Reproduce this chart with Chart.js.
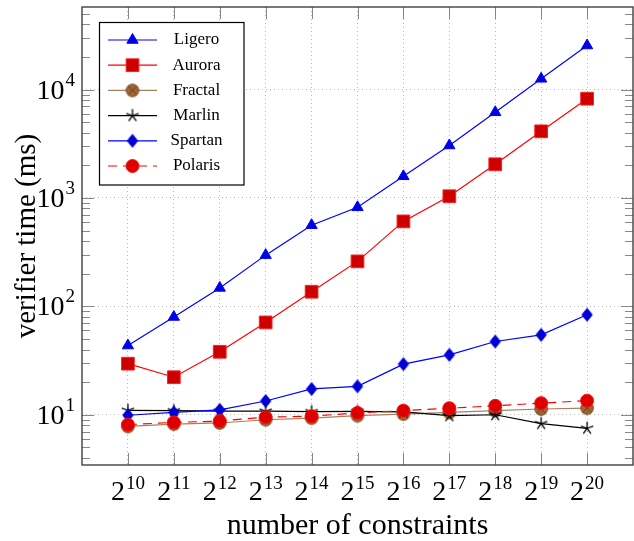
<!DOCTYPE html>
<html><head><meta charset="utf-8">
<script src="https://cdn.jsdelivr.net/npm/chart.js@4.4.1/dist/chart.umd.min.js"></script>
<style>html,body{margin:0;padding:0;background:#fff;}#wrap{width:634px;height:541px;}</style>
</head><body><div id="wrap"><canvas id="c" width="634" height="541"></canvas></div>
<script>
// ---------- data ----------
const exponents = [10, 11, 12, 13, 14, 15, 16, 17, 18, 19, 20];
const xTickBase = '2';
const xTickExps = ['10','11','12','13','14','15','16','17','18','19','20'];
const yTickValues = [10, 100, 1000, 10000];
const yTickBase = '10';
const yTickExps = ['1','2','3','4'];
const seriesNames = ['Ligero','Aurora','Fractal','Marlin','Spartan','Polaris'];
const ligero  = [43.5, 79.8, 148, 297, 561, 820, 1585, 3050, 6170, 12580, 25500];
const aurora  = [29.6, 22.2, 38.1, 71.1, 136.5, 260, 608, 1038, 2046, 4120, 8240];
const fractal = [7.8, 8.2, 8.4, 9.0, 9.3, 9.8, 10.15, 10.5, 10.9, 11.3, 11.5];
const marlin  = [11.0, 10.9, 10.8, 10.8, 10.7, 10.75, 10.65, 9.8, 10.0, 8.3, 7.5];
const spartan = [9.9, 10.5, 11.1, 13.4, 17.3, 18.3, 29.3, 35.7, 47.4, 54.6, 83.6];
const polaris = [8.1, 8.5, 8.75, 9.5, 9.7, 10.4, 10.9, 11.5, 12.1, 12.8, 13.5];

// ---------- marker images ----------
function makeAsterisk() {
  const c = document.createElement('canvas'); c.width = 16; c.height = 16;
  const g = c.getContext('2d'); g.strokeStyle = '#000'; g.lineWidth = 1.3;
  g.beginPath();
  for (let k = 0; k < 5; k++) {
    const a = -Math.PI / 2 + k * 2 * Math.PI / 5;
    g.moveTo(8, 8); g.lineTo(8 + 6.5 * Math.cos(a), 8 + 6.5 * Math.sin(a));
  }
  g.stroke(); return c;
}
function makeOtimes() {
  const c = document.createElement('canvas'); c.width = 16; c.height = 16;
  const g = c.getContext('2d');
  g.beginPath(); g.arc(8, 8, 6.3, 0, Math.PI * 2);
  g.fillStyle = '#9c6633'; g.fill();
  g.strokeStyle = '#7a4f26'; g.lineWidth = 1; g.stroke();
  const d = 4.4;
  g.beginPath(); g.moveTo(8 - d, 8 - d); g.lineTo(8 + d, 8 + d);
  g.moveTo(8 - d, 8 + d); g.lineTo(8 + d, 8 - d);
  g.strokeStyle = '#6b4422'; g.stroke();
  return c;
}
function makeDiamond() {
  const c = document.createElement('canvas'); c.width = 14; c.height = 16;
  const g = c.getContext('2d');
  g.beginPath(); g.moveTo(7, 1.5); g.lineTo(12.2, 8); g.lineTo(7, 14.5); g.lineTo(1.8, 8); g.closePath();
  g.fillStyle = '#0000d0'; g.fill(); g.strokeStyle = '#0000ff'; g.lineWidth = 1; g.stroke();
  return c;
}
const starImg = makeAsterisk(), otimesImg = makeOtimes(), diamondImg = makeDiamond();

const SERIF = "'Liberation Serif', 'DejaVu Serif', serif";

function ds(label, data, o) {
  return Object.assign({
    label, data: data.map((v, i) => ({x: exponents[i], y: v})),
    borderWidth: 1.2, pointBorderWidth: 1, tension: 0, fill: false, clip: false
  }, o);
}
const datasets = [
  ds(seriesNames[0], ligero, {borderColor:'#0000ff', pointStyle:'triangle', pointRadius:6.5, pointBackgroundColor:'#0000e0', pointBorderColor:'#0000ff', order:6}),
  ds(seriesNames[1], aurora, {borderColor:'#ff0000', pointStyle:'rect', pointRadius:9, pointBackgroundColor:'#cc0000', pointBorderColor:'#ff2020', order:5}),
  ds(seriesNames[2], fractal, {borderColor:'#a8825a', pointStyle:otimesImg, order:4}),
  ds(seriesNames[3], marlin, {borderColor:'#000000', pointStyle:starImg, order:3}),
  ds(seriesNames[4], spartan, {borderColor:'#0000ff', pointStyle:diamondImg, order:2}),
  ds(seriesNames[5], polaris, {borderColor:'#ff0000', borderDash:[9,6], pointStyle:'circle', pointRadius:6.5, pointBackgroundColor:'#dd0000', pointBorderColor:'#ff1010', order:1})
];

// ---------- frame, inside ticks, tick labels with exponents ----------
const framePlugin = {
  id: 'frame',
  afterDraw(chart) {
    const {ctx, chartArea: a, scales: {x, y}} = chart;
    ctx.save();
    ctx.strokeStyle = '#7a7a7a'; ctx.lineWidth = 0.9;
    ctx.beginPath();
    exponents.forEach(e => {
      const px = Math.round(x.getPixelForValue(e)) + 0.5;
      ctx.moveTo(px, a.bottom); ctx.lineTo(px, a.bottom - 12);
      ctx.moveTo(px, a.top); ctx.lineTo(px, a.top + 12);
    });
    for (let d = 0; d <= 4; d++) {
      for (let k = 1; k <= 9; k++) {
        const v = k * Math.pow(10, d);
        if (v < y.min || v > y.max) continue;
        const len = k === 1 ? 12 : 8;
        const py = Math.round(y.getPixelForValue(v)) + 0.5;
        ctx.moveTo(a.left, py); ctx.lineTo(a.left + len, py);
        ctx.moveTo(a.right, py); ctx.lineTo(a.right - len, py);
      }
    }
    ctx.stroke();
    ctx.strokeStyle = '#404040'; ctx.lineWidth = 1.4;
    ctx.strokeRect(a.left, a.top, a.right - a.left, a.bottom - a.top);

    // tick labels
    ctx.fillStyle = '#000';
    ctx.textBaseline = 'alphabetic';
    const baseFont = '28px ' + SERIF, expFont = '19px ' + SERIF;
    exponents.forEach((e, i) => {
      const px = x.getPixelForValue(e);
      ctx.font = baseFont; const wb = ctx.measureText(xTickBase).width;
      ctx.font = expFont; const we = ctx.measureText(xTickExps[i]).width;
      const x0 = px - (wb + we + 1) / 2;
      ctx.textAlign = 'left';
      ctx.font = baseFont; ctx.fillText(xTickBase, x0, a.bottom + 35);
      ctx.font = expFont; ctx.fillText(xTickExps[i], x0 + wb + 1, a.bottom + 24);
    });
    yTickValues.forEach((v, i) => {
      const py = y.getPixelForValue(v);
      const xr = a.left - 7;
      ctx.textAlign = 'right';
      ctx.font = expFont; const we = ctx.measureText(yTickExps[i]).width;
      ctx.fillText(yTickExps[i], xr, py - 4);
      ctx.font = baseFont; ctx.fillText(yTickBase, xr - we - 1, py + 9);
    });
    ctx.restore();
  }
};

// ---------- legend ----------
const legendPlugin = {
  id: 'texLegend',
  afterDraw(chart) {
    const ctx = chart.ctx;
    const box = {l: 99.5, t: 22.5, r: 244, b: 185};
    ctx.save();
    ctx.fillStyle = '#fff';
    ctx.fillRect(box.l, box.t, box.r - box.l, box.b - box.t);
    ctx.strokeStyle = '#000'; ctx.lineWidth = 1.2;
    ctx.strokeRect(box.l, box.t, box.r - box.l, box.b - box.t);
    chart.data.datasets.forEach((d, i) => {
      const yy = 40 + i * 25.2;
      ctx.save();
      ctx.strokeStyle = d.borderColor; ctx.lineWidth = d.borderWidth;
      ctx.setLineDash(d.borderDash || []);
      ctx.beginPath(); ctx.moveTo(108, yy); ctx.lineTo(157, yy); ctx.stroke();
      ctx.setLineDash([]);
      ctx.fillStyle = d.pointBackgroundColor || d.borderColor;
      ctx.strokeStyle = d.pointBorderColor || d.borderColor;
      ctx.lineWidth = d.pointBorderWidth;
      Chart.helpers.drawPoint(ctx, {pointStyle: d.pointStyle, radius: d.pointRadius || 6, borderWidth: d.pointBorderWidth, rotation: 0}, 132.5, yy);
      ctx.restore();
      ctx.fillStyle = '#000';
      ctx.font = '17px ' + SERIF;
      ctx.textAlign = 'center'; ctx.textBaseline = 'middle';
      ctx.fillText(d.label, 196.5, yy);
    });
    ctx.restore();
  }
};

new Chart(document.getElementById('c'), {
  type: 'line',
  data: {datasets},
  options: {
    responsive: false, animation: false, devicePixelRatio: 1,
    layout: {autoPadding: false, padding: {top: 7, right: 1, left: 0, bottom: 0}},
    plugins: {legend: {display: false}, tooltip: {enabled: false}},
    scales: {
      x: {
        type: 'linear', min: 9, max: 21, bounds: 'data',
        afterBuildTicks: s => { s.ticks = exponents.map(v => ({value: v})); },
        afterFit: s => { s.height = 76; s.paddingLeft = 0; s.paddingRight = 0; },
        ticks: {display: false},
        grid: {color: '#b8b8b8', lineWidth: 1, drawTicks: false},
        border: {display: false, dash: [1, 3]},
        title: {display: true, text: 'number of constraints', color: '#000',
                font: {family: SERIF, size: 30, lineHeight: 1}, padding: {top: 0, bottom: 0}}
      },
      y: {
        type: 'logarithmic', min: 3.44, max: 57800, bounds: 'data',
        afterBuildTicks: s => { s.ticks = yTickValues.map(v => ({value: v})); },
        afterFit: s => { s.width = 82; s.paddingTop = 0; s.paddingBottom = 0; },
        ticks: {display: false},
        grid: {color: '#b8b8b8', lineWidth: 1, drawTicks: false},
        border: {display: false, dash: [1, 3]},
        title: {display: true, text: 'verifier time (ms)', color: '#000',
                font: {family: SERIF, size: 29, lineHeight: 1}, padding: {top: 13, bottom: 0}}
      }
    }
  },
  plugins: [framePlugin, legendPlugin]
});
</script>
</body></html>
